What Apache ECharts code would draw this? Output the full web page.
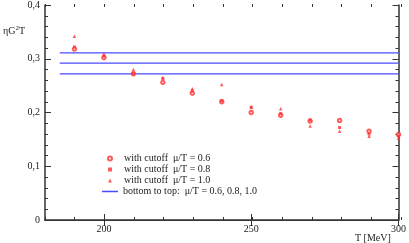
<!DOCTYPE html>
<html><head><meta charset="utf-8">
<script src="https://cdn.jsdelivr.net/npm/echarts@6/dist/echarts.min.js"></script>
<style>html,body{margin:0;padding:0;background:#fff}#c{width:409px;height:243px}</style>
</head><body><div id="c"></div>
<script>
const temps = [190, 200, 210, 220, 230, 240, 250, 260, 270, 280, 290, 300];
const cutoff06 = [0.318, 0.302, 0.272, 0.256, 0.236, 0.220, 0.200, 0.195, 0.184, 0.185, 0.165, 0.159];
const cutoff08 = [0.322, 0.305, 0.272, 0.263, 0.240, 0.222, 0.209, 0.198, 0.186, 0.172, 0.160, 0.156];
const cutoff10 = [0.342, 0.309, 0.280, 0.265, 0.244, 0.252, 0.211, 0.207, 0.175, 0.165, 0.156, 0.152];
const lineLevels = [0.272, 0.292, 0.311];
const lineSpan = [185, 300];
const xMajorLabels = [200, 250, 300];
const seriesNames = ['with cutoff  \u03bc/T = 0.6', 'with cutoff  \u03bc/T = 0.8', 'with cutoff  \u03bc/T = 1.0', 'bottom to top:  \u03bc/T = 0.6, 0.8, 1.0'];

const red = '#ff3535';
const blue = '#4a4aff';
const axisCol = '#333';
const serif = '"Liberation Serif","DejaVu Serif",serif';
const gridRect = {left: 45, right: 8, top: 4, bottom: 23};

function pts(vals){ return temps.map((t,i)=>[t, vals[i]]); }

const series = [
  {name: seriesNames[0], type: 'scatter', data: pts(cutoff06), symbol: 'emptyCircle', symbolSize: 3.5,
   itemStyle: {color: red, borderColor: red, borderWidth: 1}},
  {name: seriesNames[1], type: 'scatter', data: pts(cutoff08), symbol: 'rect', symbolSize: 3,
   itemStyle: {color: red}},
  {name: seriesNames[2], type: 'scatter', data: pts(cutoff10), symbol: 'triangle', symbolSize: 3.5,
   itemStyle: {color: red}}
];
lineLevels.forEach(v => {
  series.push({name: seriesNames[3], type: 'line', symbol: 'none', data: lineSpan.map(t => [t, v]),
    lineStyle: {color: blue, width: 1.3}, itemStyle: {color: blue}, z: 1});
});

const yLabelFmt = v => v === 0 ? '0' : v.toFixed(1).replace('.', ',');
const legendText = {fontFamily: serif, fontSize: 10, color: '#222', lineHeight: 11};

const option = {
  animation: false,
  title: [
    {text: '{a|\u03b7G}{s|2}{a|T}', left: 3, top: 25, padding: 0,
     textStyle: {rich: {a: {fontFamily: serif, fontSize: 10, fontWeight: 'normal', color: '#222'}, s: {fontFamily: serif, fontSize: 7, fontWeight: 'normal', color: '#222', verticalAlign: 'top', padding: [0,0,5,0]}}}},
    {text: 'T [MeV]', left: 355, top: 233, padding: 0, textStyle: {fontFamily: serif, fontSize: 10, fontWeight: 'normal', color: '#222'}}
  ],
  legend: [
    {orient: 'vertical', left: 107, top: 153, padding: 0, itemWidth: 4, itemHeight: 4, itemGap: 0,
     textStyle: Object.assign({padding: [0, 0, 0, 7]}, legendText),
     data: [{name: seriesNames[0], icon: 'emptyCircle'}, {name: seriesNames[1], icon: 'rect'}, {name: seriesNames[2], icon: 'triangle'}]},
    {orient: 'vertical', left: 102, top: 186, padding: 0, itemWidth: 16, itemHeight: 1.5, itemGap: 0,
     textStyle: legendText,
     data: [{name: seriesNames[3], icon: 'rect'}]}
  ],
  grid: [Object.assign({}, gridRect), Object.assign({}, gridRect)],
  xAxis: [
    {gridIndex: 0, type: 'value', position: 'bottom', min: 180, max: 300,
     axisLine: {lineStyle: {color: axisCol, width: 1.5}},
     axisTick: {inside: true, length: 6, customValues: xMajorLabels, lineStyle: {color: axisCol}},
     axisLabel: {customValues: xMajorLabels, fontFamily: serif, fontSize: 10, color: '#222', margin: 4},
     splitLine: {show: false}},
    {gridIndex: 0, type: 'value', position: 'top', min: 180, max: 300,
     axisLine: {lineStyle: {color: axisCol, width: 1}},
     axisTick: {inside: true, length: 6, customValues: xMajorLabels, lineStyle: {color: axisCol}},
     axisLabel: {show: false}, splitLine: {show: false}},
    {gridIndex: 1, type: 'value', position: 'bottom', min: 180, max: 300, interval: 10,
     axisLine: {show: false},
     axisTick: {inside: true, length: 3, lineStyle: {color: axisCol}},
     axisLabel: {show: false}, splitLine: {show: false}},
    {gridIndex: 1, type: 'value', position: 'top', min: 180, max: 300, interval: 10,
     axisLine: {show: false},
     axisTick: {inside: true, length: 3, lineStyle: {color: axisCol}},
     axisLabel: {show: false}, splitLine: {show: false}}
  ],
  yAxis: [
    {gridIndex: 0, type: 'value', position: 'left', min: 0, max: 0.4, interval: 0.1,
     axisLine: {show: true, lineStyle: {color: axisCol, width: 1.5}},
     axisTick: {show: true, inside: true, length: 6, lineStyle: {color: axisCol}},
     minorTick: {show: true, splitNumber: 5, length: 3, lineStyle: {color: axisCol}},
     axisLabel: {formatter: yLabelFmt, fontFamily: serif, fontSize: 10, color: '#222', margin: 5},
     splitLine: {show: false}},
    {gridIndex: 0, type: 'value', position: 'right', min: 0, max: 0.4, interval: 0.1,
     axisLine: {show: true, lineStyle: {color: axisCol, width: 1.5}},
     axisTick: {show: true, inside: true, length: 6, lineStyle: {color: axisCol}},
     minorTick: {show: true, splitNumber: 5, length: 3, lineStyle: {color: axisCol}},
     axisLabel: {show: false}, splitLine: {show: false}},
    {gridIndex: 1, type: 'value', min: 0, max: 0.4, show: false}
  ],
  series: series.map(s => Object.assign({xAxisIndex: 0, yAxisIndex: 0}, s))
};
echarts.init(document.getElementById('c'), null, {renderer: 'canvas'}).setOption(option);
</script></body></html>
